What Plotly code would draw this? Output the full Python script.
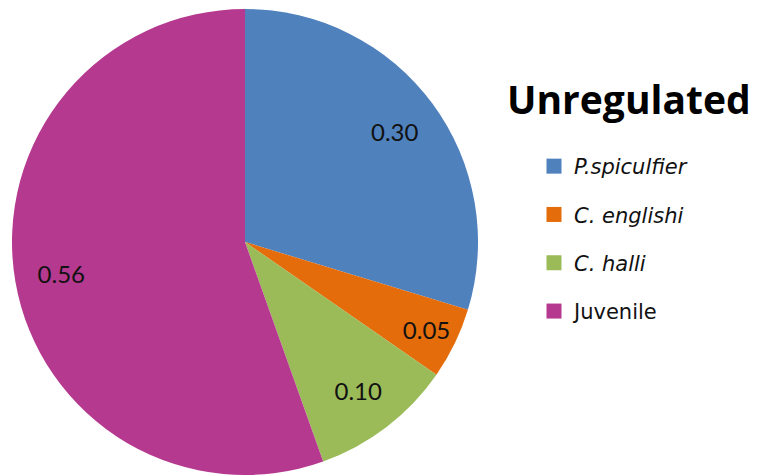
import plotly.graph_objects as go

# Species composition (proportions) for the unregulated site
categories = ["P.spiculfier", "C. englishi", "C. halli", "Juvenile"]
legend_labels = ["<i>P.spiculfier</i>", "<i>C. englishi</i>", "<i>C. halli</i>", "Juvenile"]
proportions = [0.30, 0.05, 0.10, 0.56]
slice_colors = ["#4F81BD", "#E46C0A", "#9BBB59", "#B5398F"]

W, H = 760, 475
LABEL_FONT = "Lato, 'Open Sans', sans-serif"
LEGEND_FONT = "'DejaVu Sans', sans-serif"
TITLE_FONT = "'Open Sans', sans-serif"
PIE_DOMAIN = dict(x=[12 / W, 478 / W], y=[0, 466 / H])

fig = go.Figure()

# Filled slices
fig.add_trace(go.Pie(
    labels=categories,
    values=proportions,
    sort=False,
    direction="clockwise",
    rotation=0,
    marker=dict(colors=slice_colors, line=dict(width=0)),
    textinfo="none",
    domain=PIE_DOMAIN,
    showlegend=False,
    hoverinfo="label+value",
))

# Transparent ring on top carrying the value labels toward the rim
fig.add_trace(go.Pie(
    labels=categories,
    values=proportions,
    sort=False,
    direction="clockwise",
    rotation=0,
    hole=0.6,
    marker=dict(colors=["rgba(0,0,0,0)"] * len(categories), line=dict(width=0)),
    texttemplate="%{value:.2f}",
    textposition="inside",
    insidetextorientation="horizontal",
    textfont=dict(family=LABEL_FONT, size=24, color="#111111"),
    domain=PIE_DOMAIN,
    showlegend=False,
    hoverinfo="skip",
))

# Legend entries with square swatches
for name, col in zip(legend_labels, slice_colors):
    fig.add_trace(go.Scatter(
        x=[None], y=[None], mode="markers",
        marker=dict(symbol="square", size=15, color=col),
        name=name, legendgroup=name, showlegend=True,
    ))

fig.update_layout(
    width=W, height=H,
    margin=dict(l=0, r=0, t=0, b=0),
    paper_bgcolor="white",
    plot_bgcolor="white",
    xaxis=dict(visible=False),
    yaxis=dict(visible=False),
    legend=dict(
        x=534 / W, xanchor="left",
        y=1 - 146 / H, yanchor="top",
        font=dict(family=LEGEND_FONT, size=21, color="#111111"),
        tracegroupgap=18,
        bgcolor="rgba(0,0,0,0)",
    ),
    annotations=[dict(
        text="<b>Unregulated</b>",
        x=629 / W, y=1 - 98 / H, xref="paper", yref="paper",
        xanchor="center", yanchor="middle", showarrow=False,
        font=dict(family=TITLE_FONT, size=39, color="#000000"),
    )],
)

fig.write_html("out.html")
